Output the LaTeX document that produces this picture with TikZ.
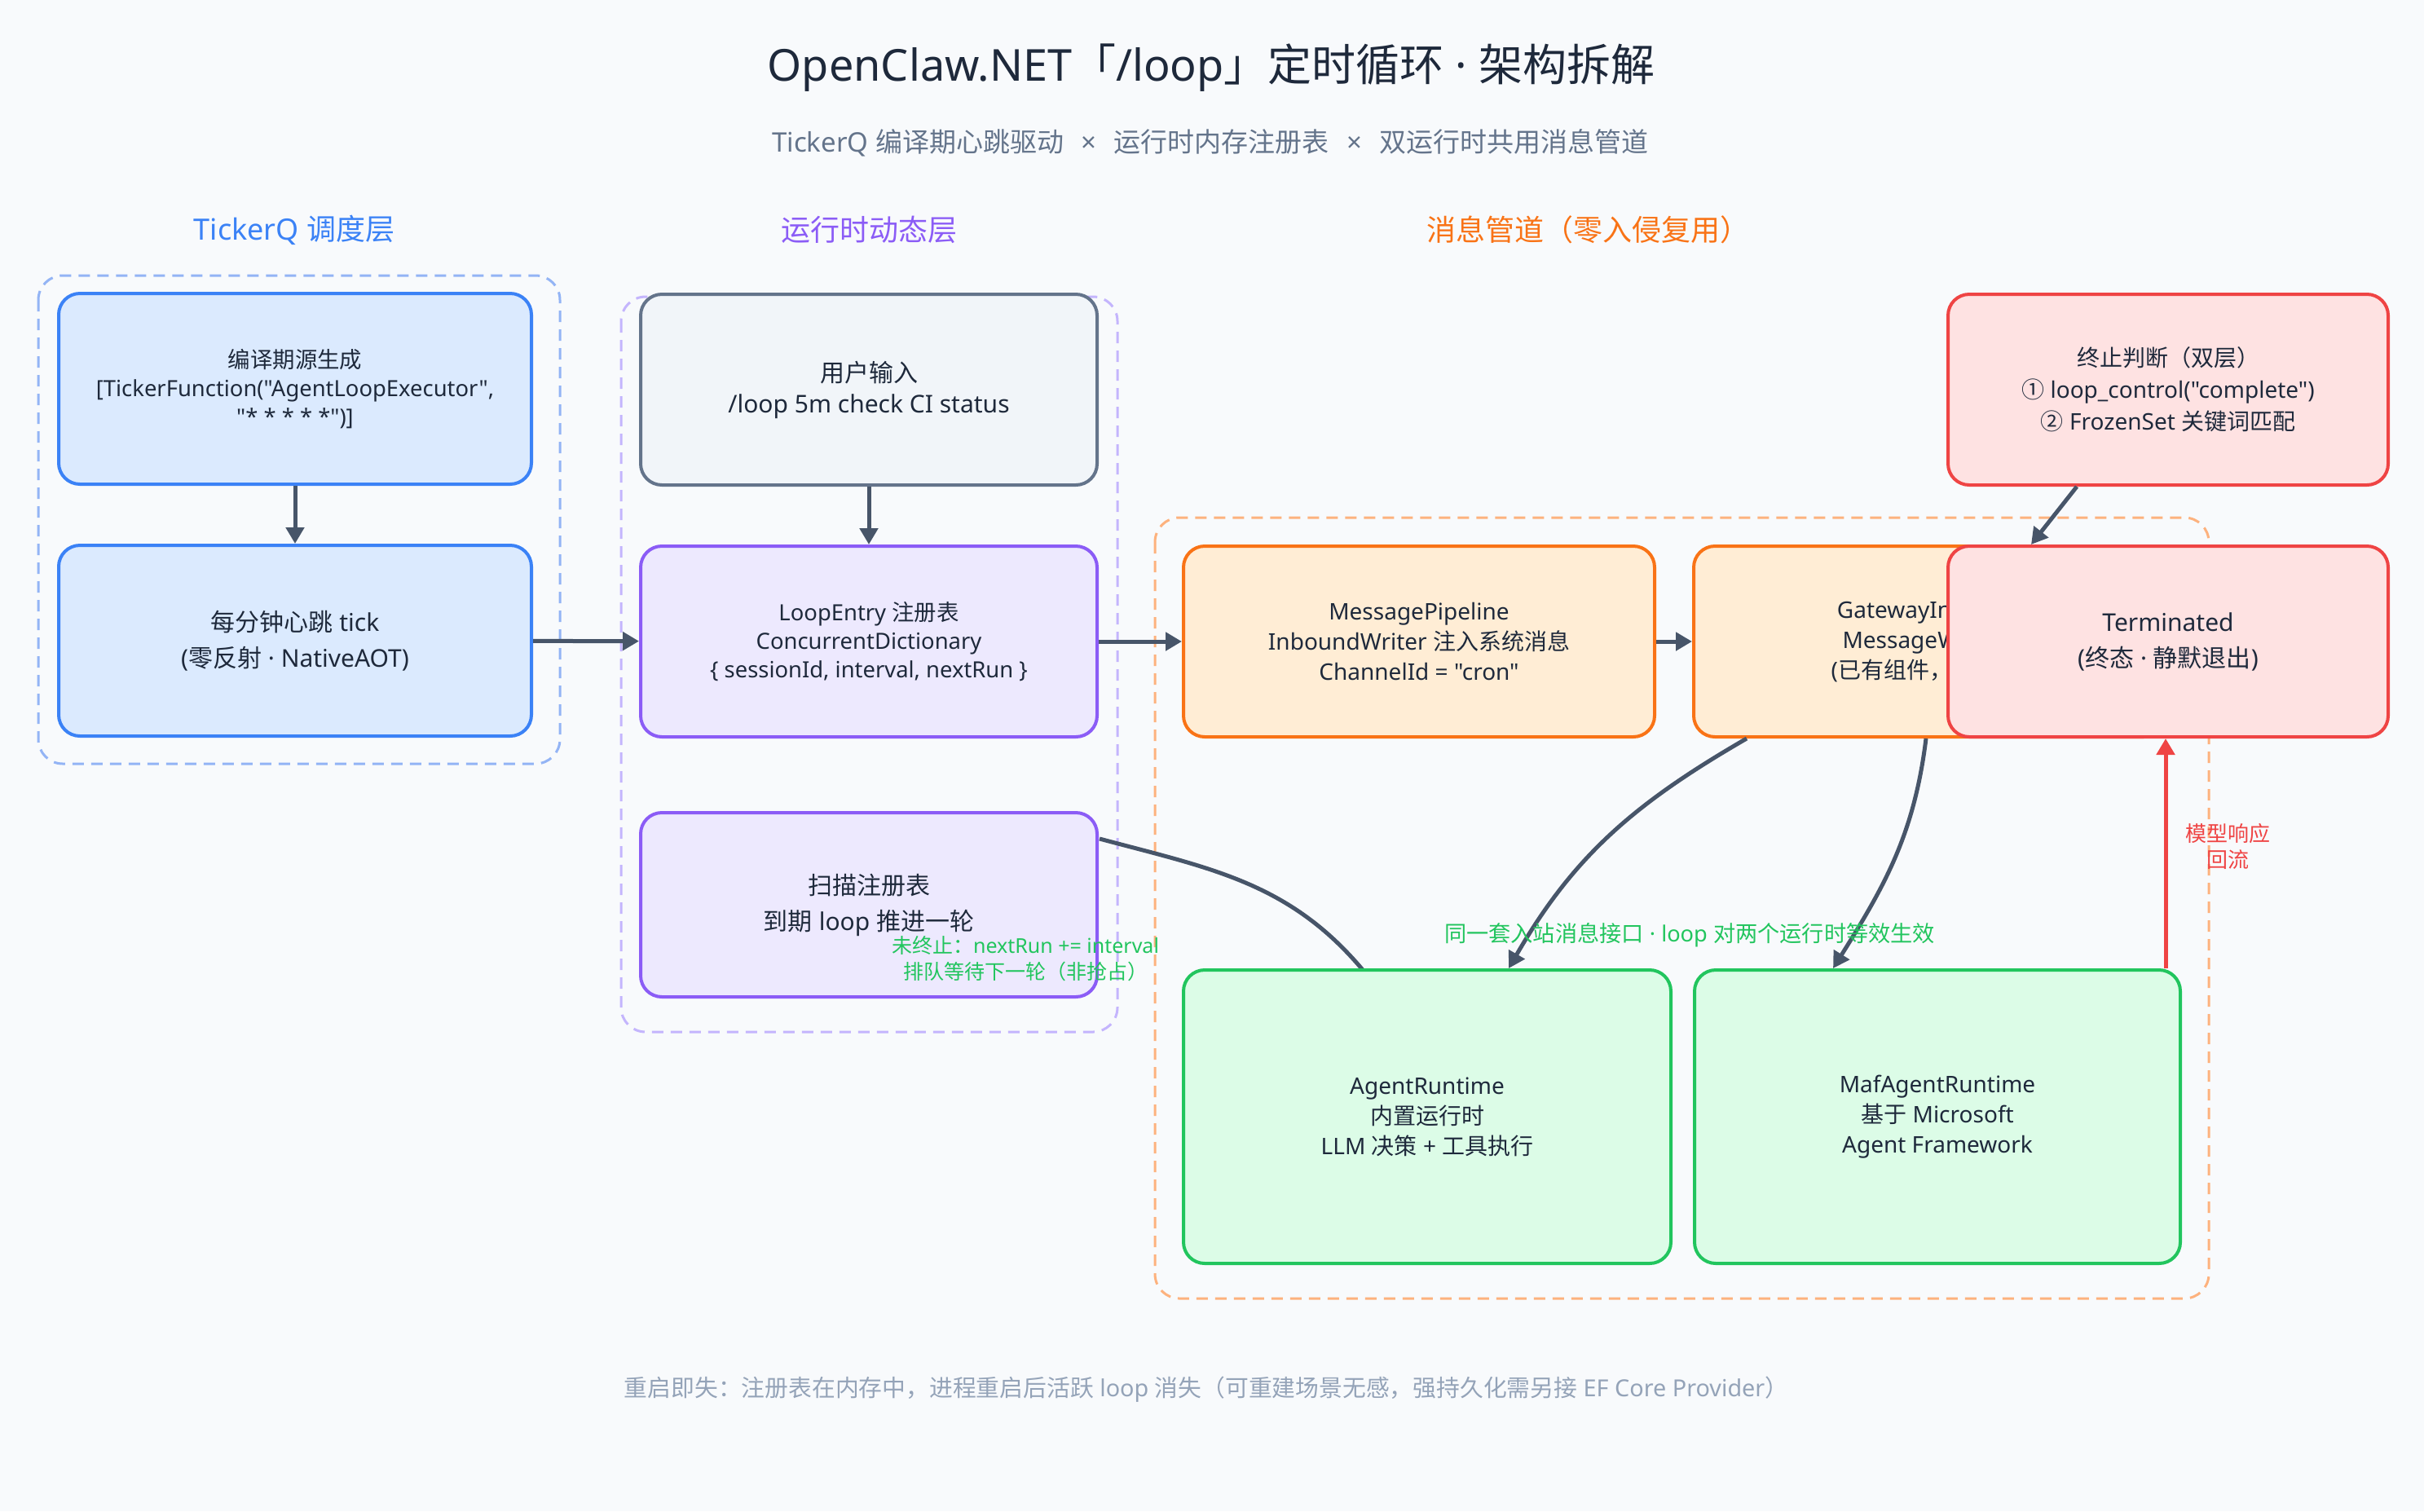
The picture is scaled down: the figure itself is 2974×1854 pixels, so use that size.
\documentclass[tikz,border=0pt]{standalone}
\usepackage{fontspec}
\setmainfont{Noto Sans}[Ligatures=TeXOff]
\newfontfamily\cjkfont{Noto Sans CJK SC}
\usetikzlibrary{arrows.meta}

% CJK runs in Noto Sans CJK SC, Latin runs in Noto Sans
\newXeTeXintercharclass\cjkclass
\newcount\cjkcode
\cjkcode="2460
\loop\XeTeXcharclass\cjkcode=\cjkclass \advance\cjkcode by 1 \ifnum\cjkcode<"2500 \repeat
\cjkcode="3000
\loop\XeTeXcharclass\cjkcode=\cjkclass \advance\cjkcode by 1 \ifnum\cjkcode<"A000 \repeat
\cjkcode="FF00
\loop\XeTeXcharclass\cjkcode=\cjkclass \advance\cjkcode by 1 \ifnum\cjkcode<"FFF0 \repeat
\XeTeXinterchartoks 0 \cjkclass = {\cjkfont}
\XeTeXinterchartoks 4095 \cjkclass = {\cjkfont}
\XeTeXinterchartoks \cjkclass 0 = {\rmfamily}
\XeTeXinterchartoks \cjkclass 4095 = {\rmfamily}
\XeTeXinterchartokenstate=1

\definecolor{bg}{HTML}{F8FAFC}
\definecolor{ink}{HTML}{1E293B}
\definecolor{subink}{HTML}{64748B}
\definecolor{noteink}{HTML}{94A3B8}
\definecolor{arrowink}{HTML}{475569}
\definecolor{blueline}{HTML}{3B82F6}
\definecolor{bluefill}{HTML}{DBEAFE}
\definecolor{bluedash}{HTML}{93B4F5}
\definecolor{purpleline}{HTML}{8B5CF6}
\definecolor{purplefill}{HTML}{EDE9FE}
\definecolor{purpledash}{HTML}{C4B5FD}
\definecolor{grayline}{HTML}{64748B}
\definecolor{grayfill}{HTML}{F1F5F9}
\definecolor{orangeline}{HTML}{F97316}
\definecolor{orangefill}{HTML}{FFEDD5}
\definecolor{orangedash}{HTML}{FDB27E}
\definecolor{redline}{HTML}{EF4444}
\definecolor{redfill}{HTML}{FEE2E2}
\definecolor{greenline}{HTML}{22C55E}
\definecolor{greenfill}{HTML}{DCFCE7}

\begin{document}
\begin{tikzpicture}[x=0.5pt, y=-0.5pt,
    box/.style={draw, rounded corners=13pt, line width=2pt, align=center,
      inner sep=0pt, text=ink, font=\fontsize{14}{18.5}\selectfont},
    tight/.style={font=\fontsize{13.7}{17.5}\selectfont},
    twoline/.style={font=\fontsize{15}{22}\selectfont},
    tickbox/.style={box, draw=blueline, fill=bluefill,
      minimum width=290pt, minimum height=117pt},
    userbox/.style={box, draw=grayline, fill=grayfill,
      minimum width=280pt, minimum height=117pt},
    runbox/.style={box, draw=purpleline, fill=purplefill,
      minimum width=280pt, minimum height=117pt},
    pipebox/.style={box, draw=orangeline, fill=orangefill,
      minimum width=289pt, minimum height=117pt},
    stopbox/.style={box, draw=redline, fill=redfill,
      minimum width=270pt, minimum height=117pt},
    agentbox/.style={box, draw=greenline, fill=greenfill,
      minimum width=299pt, minimum height=180pt},
    group/.style={line width=1.5pt, rounded corners=15pt,
      dash pattern=on 7pt off 4.5pt},
    layer/.style={font=\fontsize{18}{22}\selectfont},
    flow/.style={draw=arrowink, line width=2.5pt,
      -{Triangle[length=10pt, width=11pt]}},
    edgenote/.style={align=center, font=\fontsize{12.5}{16}\selectfont}]

  % canvas
  \fill [bg] (0,0) rectangle (2974,1854);
  \useasboundingbox (0,0) rectangle (2974,1854);

  % title
  \node (title) [text=ink, font=\fontsize{27}{32}\selectfont] at (1486,83)
    {OpenClaw.NET「/loop」定时循环 · 架构拆解};
  \node (subtitle) [text=subink, font=\fontsize{16.5}{20}\selectfont] at (1485,175)
    {TickerQ 编译期心跳驱动\hspace{0.65em}×\hspace{0.65em}运行时内存注册表\hspace{0.65em}×\hspace{0.65em}双运行时共用消息管道};

  % layers
  \draw [group, draw=bluedash]   (47,338)   rectangle (687,937);
  \draw [group, draw=purpledash] (762,364)  rectangle (1371,1266);
  \draw [group, draw=orangedash] (1417,635) rectangle (2710,1593);

  \node (tickerq) [layer, text=blueline]   at (361,282)  {TickerQ 调度层};
  \node (runtime) [layer, text=purpleline] at (1066,282) {运行时动态层};
  \node (pipeline) [layer, text=orangeline] at (1948,282) {消息管道（零入侵复用）};

  % scan back to runtime
  \coordinate (scanout) at (1349,1029);
  \coordinate (agentin) at (1672,1190);
  \draw [arrowink, line width=2.5pt] (scanout) to [out=-15, in=130] (agentin);

  % boxes
  \node (src)  [tickbox, tight] at (362,477)
    {编译期源生成\\{[}TickerFunction("AgentLoopExecutor",\\"* * * * *")]};
  \node (tick) [tickbox, twoline] at (362,786) {每分钟心跳 tick\\(零反射 · NativeAOT)};

  \node (input) [userbox, font=\fontsize{15}{19}\selectfont] at (1066,478)
    {用户输入\\/loop 5m check CI status};
  \node (entry) [runbox, tight] at (1066,787)
    {LoopEntry 注册表\\ConcurrentDictionary\\\{ sessionId, interval, nextRun \}};
  \node (scan)  [runbox, twoline, minimum height=113pt] at (1066,1110)
    {扫描注册表\\到期 loop 推进一轮};

  \node (pipe)    [pipebox] at (1741,787)
    {MessagePipeline\\InboundWriter 注入系统消息\\ChannelId = "cron"};
  \node (gateway) [pipebox] at (2367,787)
    {GatewayInbound\\MessageWorker\\(已有组件，未改动)};

  \node (stopchk) [stopbox, font=\fontsize{14}{19.5}\selectfont] at (2660,478)
    {终止判断（双层）\\① loop\_control("complete")\\② FrozenSet 关键词匹配};
  \node (term)    [stopbox, twoline] at (2660,787) {Terminated\\(终态 · 静默退出)};

  \node (agent) [agentbox] at (1751,1370) {AgentRuntime\\内置运行时\\LLM 决策 + 工具执行};
  \node (maf)   [agentbox, minimum width=298pt] at (2377,1370)
    {MafAgentRuntime\\基于 Microsoft\\Agent Framework};

  % connectors
  \draw [flow] (src) -- (tick);
  \draw [flow] (input) -- (entry);
  \draw [flow] (tick) -- (entry);
  \draw [flow] (entry) -- (pipe);
  \draw [flow] (pipe) -- (gateway);
  \draw [flow] ([xshift=-56pt]stopchk.south) -- ([xshift=-84pt]term.north);

  \draw [flow] ([xshift=-112pt]gateway.south) to [out=210, in=60]
    ([xshift=50pt]agent.north);
  \draw [flow] ([xshift=-2pt]gateway.south) to [out=-97, in=58]
    ([xshift=-64pt]maf.north);

  \coordinate (reply) at ([xshift=-10pt]maf.north east);
  \draw [flow, draw=redline] (reply) -- (reply |- term.south);

  % labels
  \node (retry) [edgenote, text=greenline] at (1258,1176)
    {未终止：nextRun += interval\\排队等待下一轮（非抢占）};
  \node (shared) [edgenote, text=greenline, font=\fontsize{13.6}{16}\selectfont] at (2073,1147)
    {同一套入站消息接口 · loop 对两个运行时等效生效};
  \node (back) [edgenote, text=redline, font=\fontsize{13}{16}\selectfont] at (2733,1038)
    {模型响应\\回流};

  \node (footnote) [text=noteink, font=\fontsize{14.4}{17}\selectfont] at (1480,1705)
    {重启即失：注册表在内存中，进程重启后活跃 loop 消失（可重建场景无感，强持久化需另接 EF Core Provider）};
\end{tikzpicture}
\end{document}
